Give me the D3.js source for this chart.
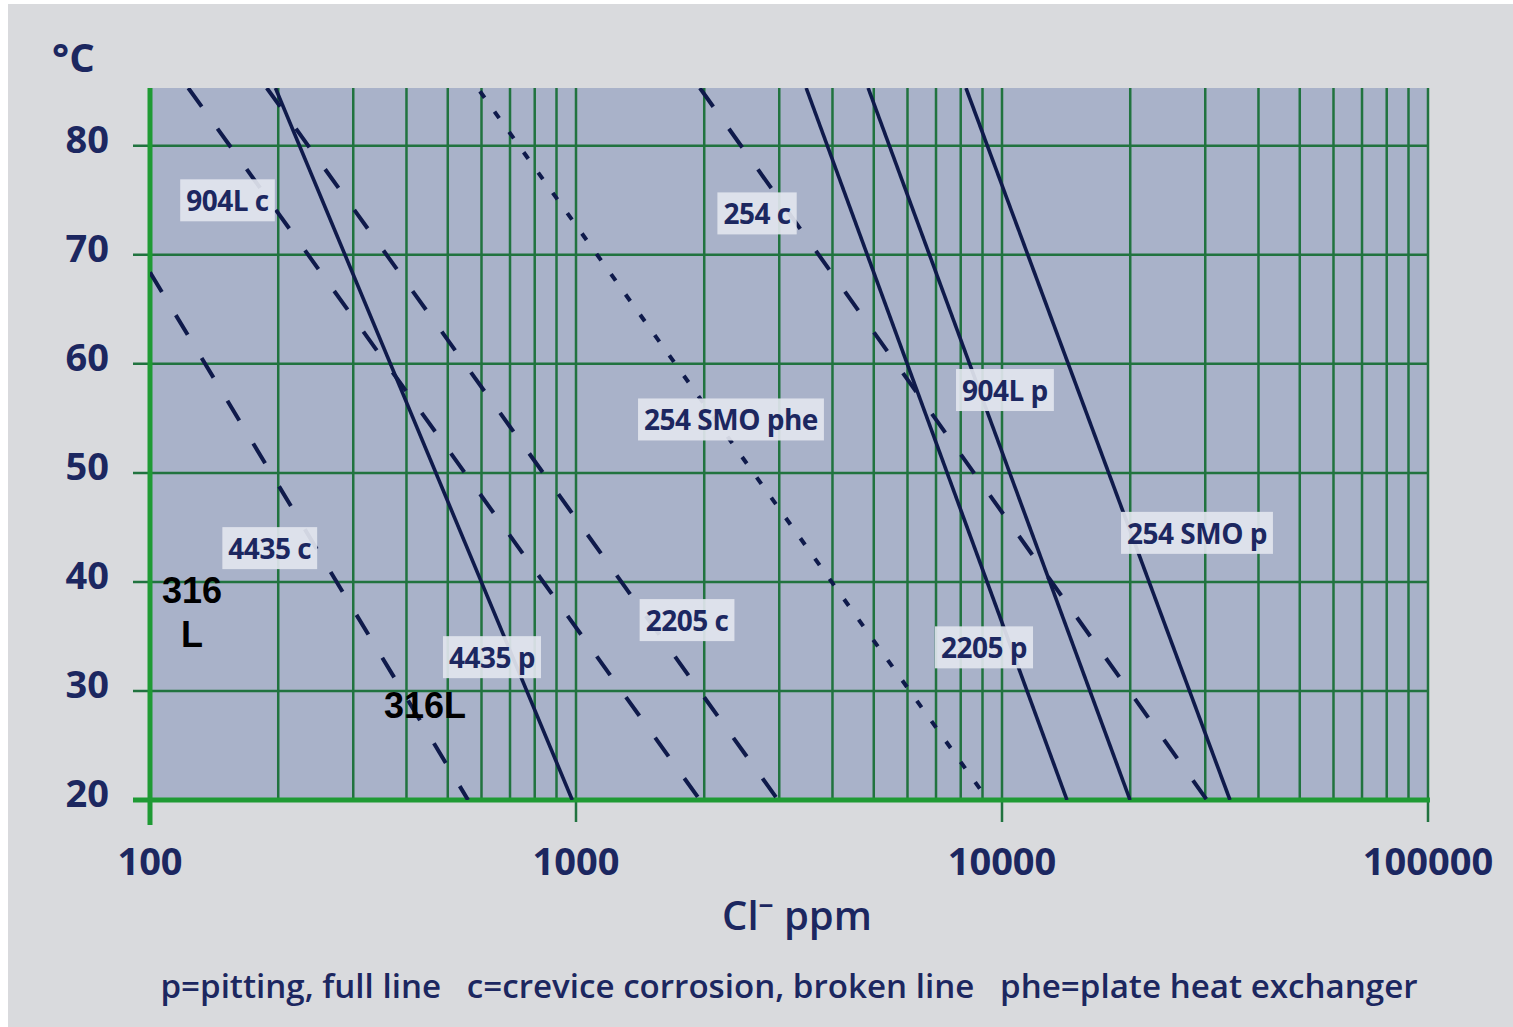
<!DOCTYPE html>
<html>
<head>
<meta charset="utf-8">
<script src="https://cdn.jsdelivr.net/npm/d3@7"></script>
<style>
  body { margin: 0; background: #fff; }
  svg { display: block; }
</style>
</head>
<body>
<svg id="chart" width="1513" height="1027"></svg>
<script>
// axis ticks
const tempTicks = [20, 30, 40, 50, 60, 70, 80];
const ppmTicks = [100, 1000, 10000, 100000];

// each curve as [Cl- ppm, °C] where it enters and leaves the grid
const line904Lc = [[123, 85.3], [1954, 20]];
const line2205c = [[188, 85.3], [2980, 20]];
const line4435c = [[100, 68.4], [558, 20]];
const line254c = [[1954, 85.3], [30270, 20]];
const line254SMOphe = [[595, 85.0], [9270, 20]];
const line4435p = [[197, 85.3], [980, 20]];
const line2205p = [[3470, 85.3], [14210, 20]];
const line904Lp = [[4850, 85.3], [19980, 20]];
const line254SMOp = [[8230, 85.3], [34290, 20]];

// curve labels
const labelNames = ['904L c', '254 c', '254 SMO phe', '904L p', '4435 c', '254 SMO p', '2205 c', '4435 p', '2205 p'];
const labelPpm = [152, 2660, 2311, 10160, 191, 28690, 1822, 635, 9073];
const labelTemp = [75.0, 73.8, 54.9, 57.6, 43.1, 44.5, 36.5, 33.1, 34.0];

// black notes pasted on the chart
const noteText = ['316', 'L', '316L'];
const notePpm = [125.5, 125.5, 442];
const noteTemp = [38.1, 34.0, 27.5];

const footerText = 'p=pitting, full line   c=crevice corrosion, broken line   phe=plate heat exchanger';

const svg = d3.select('#chart');
const W = +svg.attr('width');
const H = +svg.attr('height');
const plot = { left: 150, right: 1428, top: 88, bottom: 800 };
const navy = '#1c2760';
const gridGreen = '#21733f';
const axisGreen = '#1f9a34';
const font = "'Open Sans', 'Noto Sans', sans-serif";

svg.append('rect').attr('width', W).attr('height', H).attr('fill', '#fff');
svg.append('rect').attr('x', 8).attr('y', 4).attr('width', W - 8).attr('height', H - 4).attr('fill', '#d9dadd');

const x = d3.scaleLog().domain([100, 100000]).range([plot.left, plot.right]);
const y = d3.scaleLinear().domain([20, 85.3]).range([plot.bottom, plot.top]);

svg.append('rect')
    .attr('x', plot.left).attr('y', plot.top)
    .attr('width', plot.right - plot.left).attr('height', plot.bottom - plot.top)
    .attr('fill', '#a9b2c9');

// grid
const grid = svg.append('g');
grid.selectAll('.vgrid')
    .data(x.ticks())
    .join('line')
    .attr('x1', d => x(d)).attr('x2', d => x(d))
    .attr('y1', plot.top)
    .attr('y2', d => ppmTicks.includes(d) ? plot.bottom + 22 : plot.bottom)
    .attr('stroke', gridGreen)
    .attr('stroke-width', 2.5);

grid.selectAll('.hgrid')
    .data(tempTicks.filter(d => d > 20))
    .join('line')
    .attr('x1', plot.left - 17).attr('x2', plot.right)
    .attr('y1', d => y(d)).attr('y2', d => y(d))
    .attr('stroke', gridGreen)
    .attr('stroke-width', 2.5);

// axis lines
svg.append('line')
    .attr('x1', plot.left).attr('x2', plot.left)
    .attr('y1', plot.top).attr('y2', plot.bottom + 25)
    .attr('stroke', axisGreen).attr('stroke-width', 5);
svg.append('line')
    .attr('x1', plot.left - 17).attr('x2', plot.right + 2)
    .attr('y1', plot.bottom).attr('y2', plot.bottom)
    .attr('stroke', axisGreen).attr('stroke-width', 5);

// tick labels
svg.append('g').selectAll('text')
    .data(tempTicks)
    .join('text')
    .attr('x', plot.left - 41)
    .attr('y', d => y(d) + 7)
    .attr('text-anchor', 'end')
    .attr('font-family', font).attr('font-weight', 700).attr('font-size', 38)
    .attr('fill', navy)
    .text(d => d);

svg.append('g').selectAll('text')
    .data(ppmTicks)
    .join('text')
    .attr('x', d => x(d))
    .attr('y', plot.bottom + 75)
    .attr('text-anchor', 'middle')
    .attr('font-family', font).attr('font-weight', 700).attr('font-size', 38)
    .attr('fill', navy)
    .text(d => d);

svg.append('text')
    .attr('x', 52).attr('y', 72)
    .attr('font-family', font).attr('font-weight', 700).attr('font-size', 40)
    .attr('fill', navy)
    .text('°C');

const xTitle = svg.append('text')
    .attr('x', (plot.left + plot.right) / 2 + 8).attr('y', 930)
    .attr('text-anchor', 'middle')
    .attr('font-family', font).attr('font-weight', 600).attr('font-size', 40)
    .attr('fill', navy);
xTitle.append('tspan').text('Cl');
xTitle.append('tspan').attr('dy', -16).attr('font-size', 30).text('\u2013');
xTitle.append('tspan').attr('dy', 16).text(' ppm');

const footer = svg.append('text')
    .attr('x', 789).attr('y', 998)
    .attr('text-anchor', 'middle')
    .attr('font-family', font).attr('font-weight', 600).attr('font-size', 30)
    .attr('fill', navy)
    .attr('xml:space', 'preserve')
    .style('white-space', 'pre')
    .text(footerText);
const fw = footer.node().getComputedTextLength();
footer.attr('font-size', 30 * 1258 / fw);

// curves
const curves = [
    { pts: line904Lc, kind: 'c' },
    { pts: line2205c, kind: 'c' },
    { pts: line4435c, kind: 'c' },
    { pts: line254c, kind: 'c' },
    { pts: line254SMOphe, kind: 'phe' },
    { pts: line4435p, kind: 'p' },
    { pts: line2205p, kind: 'p' },
    { pts: line904Lp, kind: 'p' },
    { pts: line254SMOp, kind: 'p' }
];
const dashes = { c: '23,27', phe: '8,17', p: null };

svg.append('clipPath').attr('id', 'plotClip')
    .append('rect')
    .attr('x', plot.left).attr('y', plot.top)
    .attr('width', plot.right - plot.left).attr('height', plot.bottom - plot.top);

const line = d3.line()
    .x(d => x(d[0]))
    .y(d => y(d[1]));

svg.append('g').attr('clip-path', 'url(#plotClip)')
    .selectAll('path')
    .data(curves)
    .join('path')
    .attr('d', d => line(d.pts))
    .attr('fill', 'none')
    .attr('stroke', '#0f1a4b')
    .attr('stroke-width', d => d.kind === 'p' ? 3.6 : 4)
    .attr('stroke-dasharray', d => dashes[d.kind]);

// labels with pale boxes
const labels = svg.append('g');
labelNames.forEach((name, i) => {
    const g = labels.append('g');
    const t = g.append('text')
        .attr('x', x(labelPpm[i]))
        .attr('y', y(labelTemp[i]))
        .attr('text-anchor', 'middle')
        .attr('dominant-baseline', 'central')
        .attr('font-family', font).attr('font-weight', 700).attr('font-size', 28)
        .attr('fill', navy)
        .attr('letter-spacing', -0.5)
        .text(name);
    const bb = t.node().getBBox();
    g.insert('rect', 'text')
        .attr('x', bb.x - 6).attr('y', bb.y - 2)
        .attr('width', bb.width + 12).attr('height', bb.height + 4)
        .attr('fill', '#e2e5ee').attr('opacity', 0.92);
});

svg.append('g').selectAll('text')
    .data(noteText)
    .join('text')
    .attr('x', (d, i) => x(notePpm[i]))
    .attr('y', (d, i) => y(noteTemp[i]))
    .attr('text-anchor', 'middle')
    .attr('font-family', "'Liberation Sans', Arial, sans-serif")
    .attr('font-weight', 700).attr('font-size', 36)
    .attr('fill', '#000')
    .text(d => d);
</script>
</body>
</html>
